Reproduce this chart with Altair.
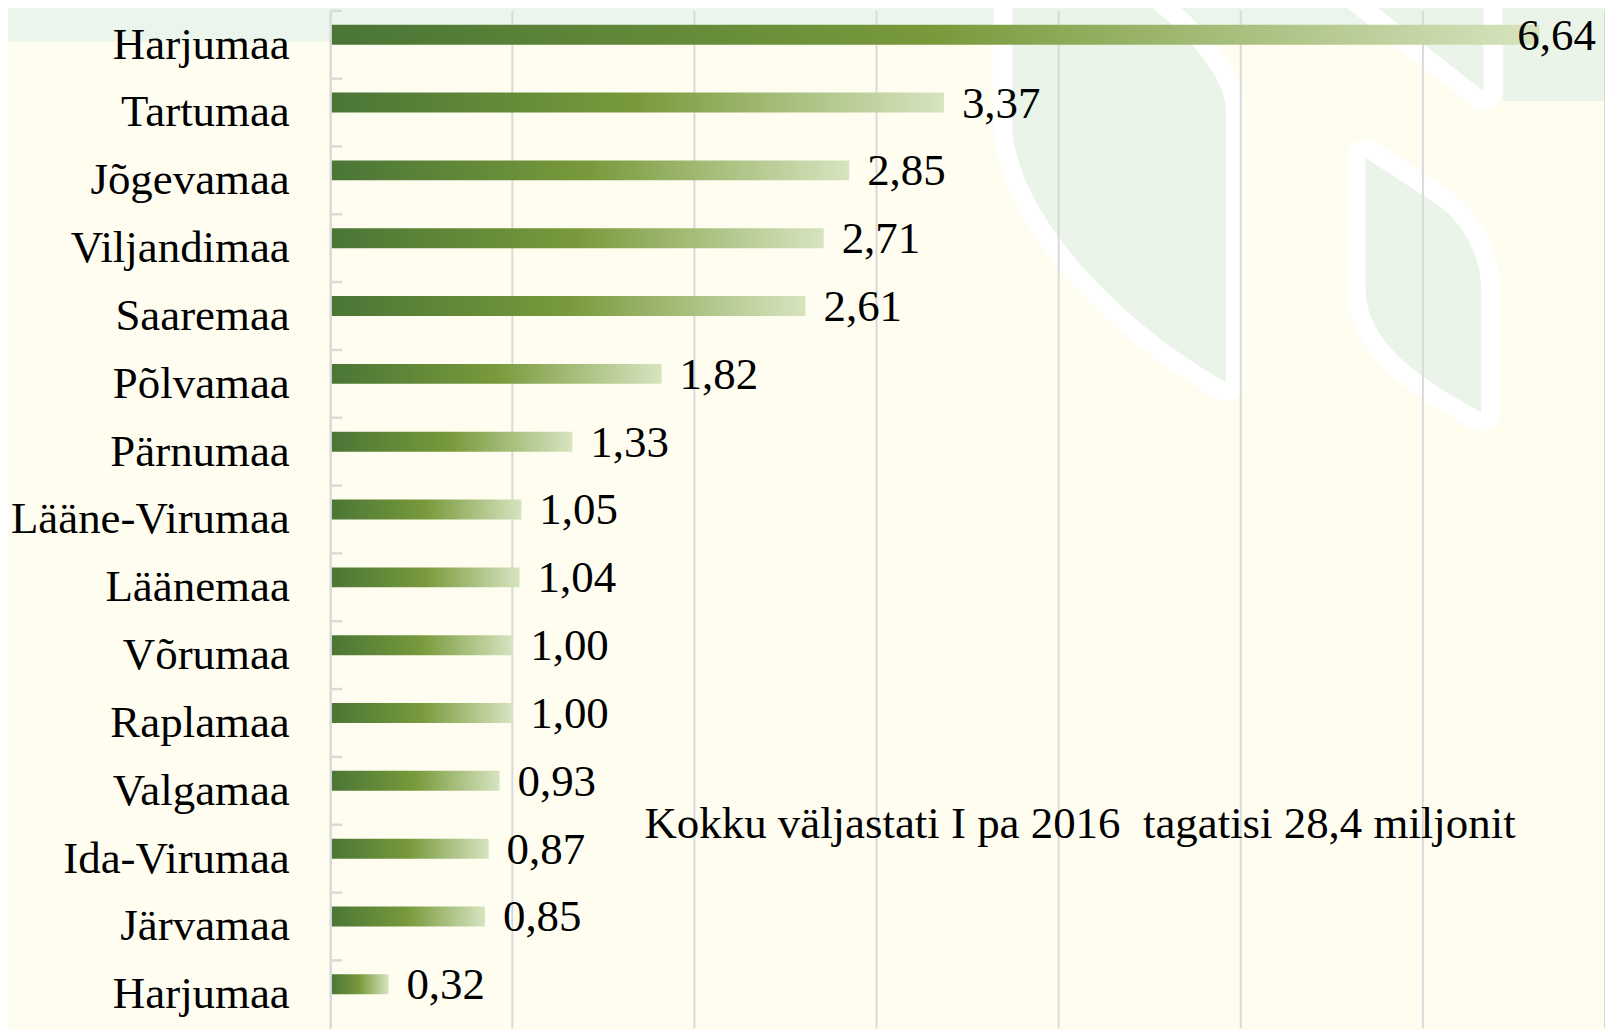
import altair as alt
import pandas as pd

# ---- data ----
counties = ["Harjumaa", "Tartumaa", "Jõgevamaa", "Viljandimaa", "Saaremaa",
            "Põlvamaa", "Pärnumaa", "Lääne-Virumaa", "Läänemaa", "Võrumaa",
            "Raplamaa", "Valgamaa", "Ida-Virumaa", "Järvamaa", "Harjumaa"]
values = [6.64, 3.37, 2.85, 2.71, 2.61, 1.82, 1.33, 1.05, 1.04, 1.00, 1.00,
          0.93, 0.87, 0.85, 0.32]
grid_ticks = [1, 2, 3, 4, 5, 6, 7]
note = "Kokku väljastati I pa 2016  tagatisi 28,4 miljonit"

FONT = "Liberation Serif"
FS = 45
GRID = "#D9D9D9"
CREAM = "#FFFDF0"
LEAF = "#EAF4E8"
W, H = 1278, 1020

df = pd.DataFrame({"idx": list(range(len(counties))), "county": counties, "value": values})
grid_df = pd.DataFrame({"g": grid_ticks})
one = pd.DataFrame({"a": [0]})

label_expr = "[" + ",".join("'" + c + "'" for c in counties) + "][datum.value]"

xscale = alt.Scale(domain=[0, 7], nice=False, zero=True)
yscale = alt.Scale(paddingInner=0, paddingOuter=0)

y_axis = alt.Axis(
    title=None, labelExpr=label_expr, labelFont=FONT, labelFontSize=FS,
    labelColor="#000000", labelPadding=41, labelLimit=600, ticks=False, tickSize=0,
    domainColor=GRID, domainWidth=2.5, grid=False, zindex=1,
)

# ---- decorative background (slide template) ----
top_band = alt.Chart(one).mark_rect(color="#EBF5EB").encode(
    x=alt.value(-340), x2=alt.value(W + 20), y=alt.value(-12), y2=alt.value(30.5)
)

leaf_paths = [
    "M 684 -19.5 L 684 120.5 C 692 210.5 797 315.5 898 372.5 L 898 95.5 C 893 60.5 860 25.5 805 -19.5 Z",
    "M 1038 147.5 L 1107 192.5 C 1139 214.5 1154 247.5 1154 282.5 L 1154 402.5 C 1099 372.5 1038 335.5 1038 278.5 Z",
    "M 1029 -19.5 L 1156 80.5 L 1156 -19.5 Z",
]
corner_path = "M 1176 -19.5 L 1290 -19.5 L 1290 90.5 L 1176 90.5 Z"

leaf_layers = []
for p in leaf_paths:
    leaf_layers.append(
        alt.Chart(one).mark_point(shape=p, size=4, filled=True, fill="#FFFFFF",
                                  stroke="#FFFFFF", strokeWidth=38, strokeJoin="round",
                                  opacity=1).encode(x=alt.value(0), y=alt.value(0))
    )
for p in leaf_paths + [corner_path]:
    leaf_layers.append(
        alt.Chart(one).mark_point(shape=p, size=4, filled=True, fill=LEAF,
                                  strokeWidth=0, opacity=1).encode(x=alt.value(0), y=alt.value(0))
    )

# ---- gridlines and axis ticks ----
grid = alt.Chart(grid_df).mark_rule(color=GRID, strokeWidth=2).encode(
    x=alt.X("g:Q", scale=xscale, axis=None)
)

ticks = alt.Chart(df).mark_rule(color=GRID, strokeWidth=2.5).encode(
    y=alt.Y("idx:O", scale=yscale, axis=y_axis, bandPosition=0),
    x=alt.value(0), x2=alt.value(12),
)

# ---- bars ----
gradient = alt.LinearGradient(
    gradient="linear",
    stops=[alt.GradientStop(color="#4A7536", offset=0),
           alt.GradientStop(color="#789A3B", offset=0.5),
           alt.GradientStop(color="#D7E4C0", offset=1)],
    x1=0, x2=1, y1=0, y2=0,
)

bars = alt.Chart(df).mark_bar(height=20, yOffset=-10, color=gradient).encode(
    y=alt.Y("idx:O", scale=yscale, axis=y_axis),
    x=alt.X("value:Q", scale=xscale, axis=None),
)

labels = alt.Chart(df).transform_calculate(
    lx="min(datum.value, 6.42)",
    lab="replace(format(datum.value, '.2f'), '.', ',')",
).mark_text(align="left", baseline="middle", dx=18, yOffset=-9,
            font=FONT, fontSize=FS, color="#000000").encode(
    y=alt.Y("idx:O", scale=yscale, axis=y_axis),
    x=alt.X("lx:Q", scale=xscale, axis=None),
    text="lab:N",
)

# keep the double space visible in SVG (second space as no-break space)
annotation = alt.Chart(one).mark_text(
    align="left", baseline="middle", font=FONT, fontSize=FS, color="#000000",
    text=note.replace("  ", " \u00a0"),
).encode(x=alt.value(315), y=alt.value(815))

chart = alt.layer(
    top_band, *leaf_layers, grid, ticks, bars, labels, annotation
).properties(
    width=W, height=H,
    autosize=alt.AutoSizeParams(type="none"),
    padding={"left": 323, "top": 1.5, "right": 0, "bottom": 0},
    background=CREAM,
).configure_view(stroke=None, fill=None)

chart.save("out.html", embed_options={"renderer": "svg", "actions": False})
